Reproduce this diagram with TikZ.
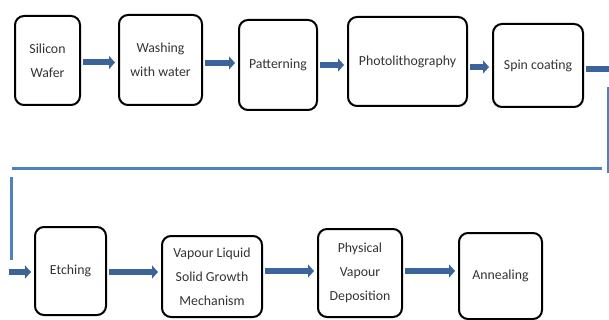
\documentclass[tikz,border=0pt]{standalone}
\usepackage{fontspec}
\setmainfont{Carlito}
\usetikzlibrary{arrows.meta}
\definecolor{arrowblue}{RGB}{60,100,155}
\definecolor{lineblue}{RGB}{79,129,189}

\begin{document}
\begin{tikzpicture}[x=1pt,y=-1pt]
                        \tikzstyle{stepbox}=[draw, line width=2pt, rounded corners=9pt, align=center,
                            font=\fontsize{13.8}{24}\selectfont, text=black!80]
                        \tikzstyle{flow}=[draw=arrowblue, line width=6pt,
                            -{Triangle[length=6pt,width=13pt]}, shorten <=2pt, shorten >=3pt]
                        \tikzstyle{loop}=[draw=lineblue, line width=3pt]
                        \useasboundingbox (0,0) rectangle (609,320);
                        % top row
                        \node[stepbox, minimum width=65pt, minimum height=89pt] (wafer) at (47.5,60.5) {Silicon\\Wafer};
                        \node[stepbox, minimum width=83pt, minimum height=90pt] (washing) at (160.5,60) {Washing\\with water};
                        \node[stepbox, minimum width=78pt, minimum height=90pt] (patterning) at (278,65) {Patterning};
                        \node[stepbox, minimum width=119pt, minimum height=89pt] (litho) at (407.5,61.5) {Photolithography};
                        \node[stepbox, minimum width=90pt, minimum height=83pt] (spin) at (538,65.5) {Spin coating};
                        % bottom row
                        \node[stepbox, minimum width=71pt, minimum height=88pt] (etching) at (70.5,271) {Etching};
                        \node[stepbox, minimum width=100pt, minimum height=81pt] (vls) at (212,276.5) {Vapour Liquid\\Solid Growth\\Mechanism};
                        \node[stepbox, minimum width=84pt, minimum height=88pt] (pvd) at (360,273) {Physical\\Vapour\\Deposition};
                        \node[stepbox, minimum width=83pt, minimum height=86pt] (annealing) at (500.5,276) {Annealing};
                        % return line
                        \coordinate (out) at (609,69);
                        \coordinate (r1) at (608,87);
                        \coordinate (r2) at (608,173);
                        \coordinate (h1) at (602,169);
                        \coordinate (h2) at (12,169);
                        \coordinate (l1) at (11,177);
                        \coordinate (l2) at (11,260);
                        \coordinate (in) at (9,272);
                        % arrows
                        \draw[flow] ([yshift=-2pt]wafer.east) -- ([yshift=-2pt]wafer.east -| washing.west);
                        \draw[flow] ([yshift=-3pt]washing.east) -- ([yshift=-3pt]washing.east -| patterning.west);
                        \draw[flow] (patterning.east) -- (patterning.east -| litho.west);
                        \draw[flow] ([yshift=-5.5pt]litho.east) -- ([yshift=-5.5pt]litho.east -| spin.west);
                        \draw[flow, -, shorten >=0pt] (spin.east |- out) -- (out);
                        \draw[loop] (r1) -- (r2);
                        \draw[loop] (h1) -- (h2);
                        \draw[loop] (l1) -- (l2);
                        \draw[flow, shorten <=0pt] (in) -- (in -| etching.west);
                        \draw[flow] ([yshift=-1pt]etching.east) -- ([yshift=-1pt]etching.east -| vls.west);
                        \draw[flow] ([yshift=5.5pt]vls.east) -- ([yshift=5.5pt]vls.east -| pvd.west);
                        \draw[flow] ([yshift=2pt]pvd.east) -- ([yshift=2pt]pvd.east -| annealing.west);
                    \end{tikzpicture}
\end{document}
